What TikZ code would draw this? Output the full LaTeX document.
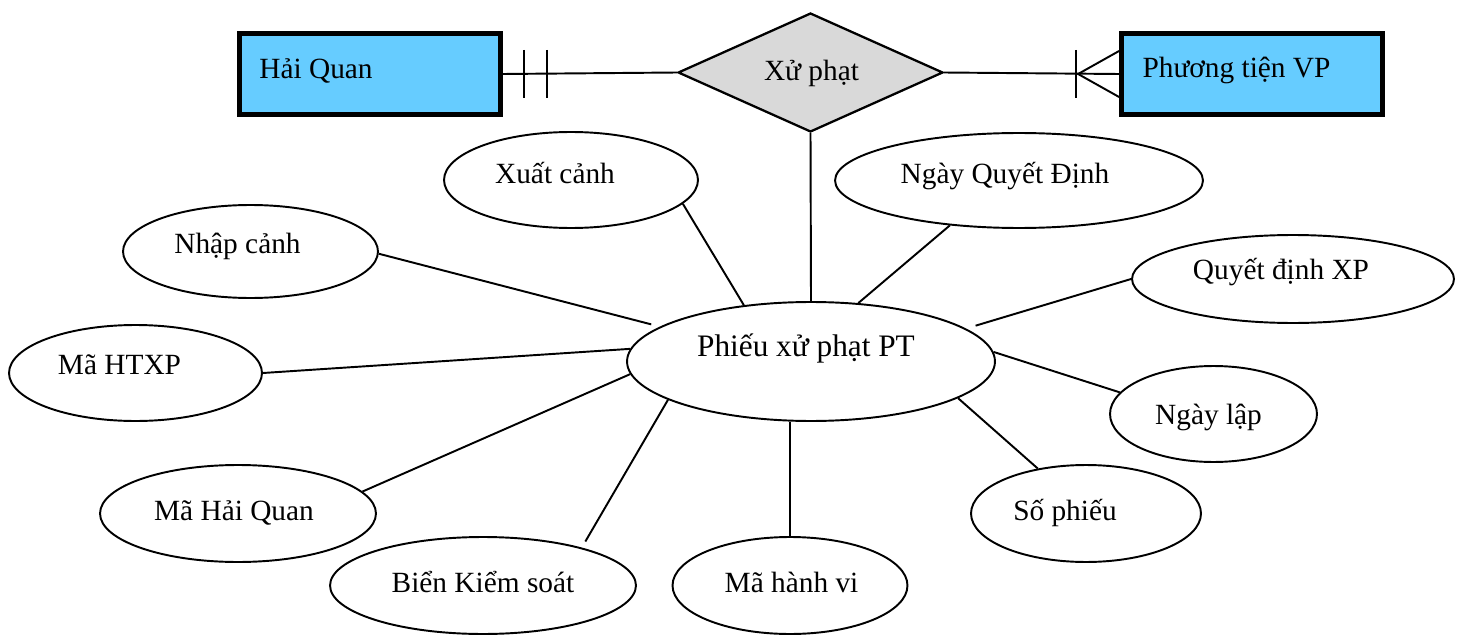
\documentclass[tikz,border=0pt]{standalone}
\usepackage{fontspec}
\setmainfont{Liberation Serif}
\usetikzlibrary{shapes.geometric,calc}
\definecolor{entblue}{HTML}{66CCFF}
\definecolor{relgray}{HTML}{D9D9D9}
\newlength\pxu
\setlength\pxu{0.02cm}
% text placed with horizontal offset #1 px and baseline #2 px below node centre
\newcommand\tx[3]{\raisebox{-#2\pxu}[0pt][0pt]{\makebox[0pt]{\hspace*{#1\pxu}\hspace*{#1\pxu}#3}}}
\begin{document}
\begin{tikzpicture}[x=0.02cm,y=-0.02cm,
  every node/.style={inner sep=0pt,font=\fontsize{16.7pt}{20pt}\selectfont},
  entity/.style={rectangle,draw=black,fill=entblue,line width=2.8pt,minimum width=5.22cm,minimum height=1.62cm},
  relation/.style={diamond,draw=black,fill=relgray,line width=1.3pt,minimum width=5.3cm,minimum height=2.38cm},
  attr/.style={ellipse,draw=black,line width=1.1pt},
  conn/.style={line width=1.1pt}]
\useasboundingbox (0,0) rectangle (1464,635);

% entities and relationship
\node[entity] (HQ) at (370,74) {\tx{-54}{5}{Hải Quan}};
\node[entity] (PT) at (1252,74) {\tx{-15.5}{4}{Phương tiện VP}};
\node[relation] (X) at (810.5,72.5) {\tx{1}{8}{Xử phạt}};

% main attribute entity
\node[attr,minimum width=7.36cm,minimum height=2.38cm,font=\fontsize{17.8pt}{21pt}\selectfont] (P) at (811,361.5) {\tx{-5}{-5.5}{Phiếu xử phạt PT}};

% attributes
\node[attr,minimum width=5.08cm,minimum height=1.92cm] (XC) at (571,180) {\tx{-16}{3}{Xuất cảnh}};
\node[attr,minimum width=7.36cm,minimum height=1.9cm] (NQD) at (1019,180.5) {\tx{-14}{3}{Ngày Quyết Định}};
\node[attr,minimum width=5.1cm,minimum height=1.86cm] (NC) at (250.5,251.5) {\tx{-13}{2}{Nhập cảnh}};
\node[attr,minimum width=6.44cm,minimum height=1.76cm] (QD) at (1293,279) {\tx{-12}{0}{Quyết định XP}};
\node[attr,minimum width=5.06cm,minimum height=1.92cm] (HTXP) at (135.5,373) {\tx{-16}{1}{Mã HTXP}};
\node[attr,minimum width=4.14cm,minimum height=1.92cm] (NL) at (1213.5,414) {\tx{-5}{10}{Ngày lập}};
\node[attr,minimum width=5.52cm,minimum height=1.94cm] (MHQ) at (238,513.5) {\tx{-4}{7}{Mã Hải Quan}};
\node[attr,minimum width=4.6cm,minimum height=1.94cm] (SP) at (1086,513.5) {\tx{-21}{7}{Số phiếu}};
\node[attr,minimum width=6.12cm,minimum height=1.94cm] (BKS) at (483,585.5) {\tx{0}{7}{Biển Kiểm soát}};
\node[attr,minimum width=4.7cm,minimum height=1.94cm] (MHV) at (790,585.5) {\tx{1.5}{7}{Mã hành vi}};

% relationship connectors
\draw[conn] (HQ.east) -- (X.west);
\draw[conn] ($(HQ.east)+(21,-24)$) -- ($(HQ.east)+(21,24)$);
\draw[conn] ($(HQ.east)+(44,-24)$) -- ($(HQ.east)+(44,24)$);
\draw[conn] (X.east) -- (PT.west);
\draw[conn] ($(PT.west)+(-43,-24)$) -- ($(PT.west)+(-43,24)$);
\draw[conn] ($(PT.west)+(0,-23)$) -- ($(PT.west)+(-41,0)$) -- ($(PT.west)+(0,23)$);
\draw[conn] (X.south) -- (P.north);

% attribute connectors
\draw[conn] (XC.-12.5) -- (P.140);
\draw[conn] (NQD.-147) -- (P.51);
\draw[conn,shorten >=0.18cm] (NC.-1) -- (P.167);
\draw[conn] (HTXP.0) -- (P.176);
\draw[conn] (MHQ.10) -- (P.-176.5);
\draw[conn,shorten <=0.14cm] (BKS.21.5) -- (P.-165.6);
\draw[conn] (MHV.north) -- (MHV.north |- P.south);
\draw[conn] (SP.137) -- (P.-14);
\draw[conn] (NL.167) -- (P.3.6);
\draw[conn,shorten >=0.2cm] (QD.west) -- (P.12.5);
\end{tikzpicture}
\end{document}
